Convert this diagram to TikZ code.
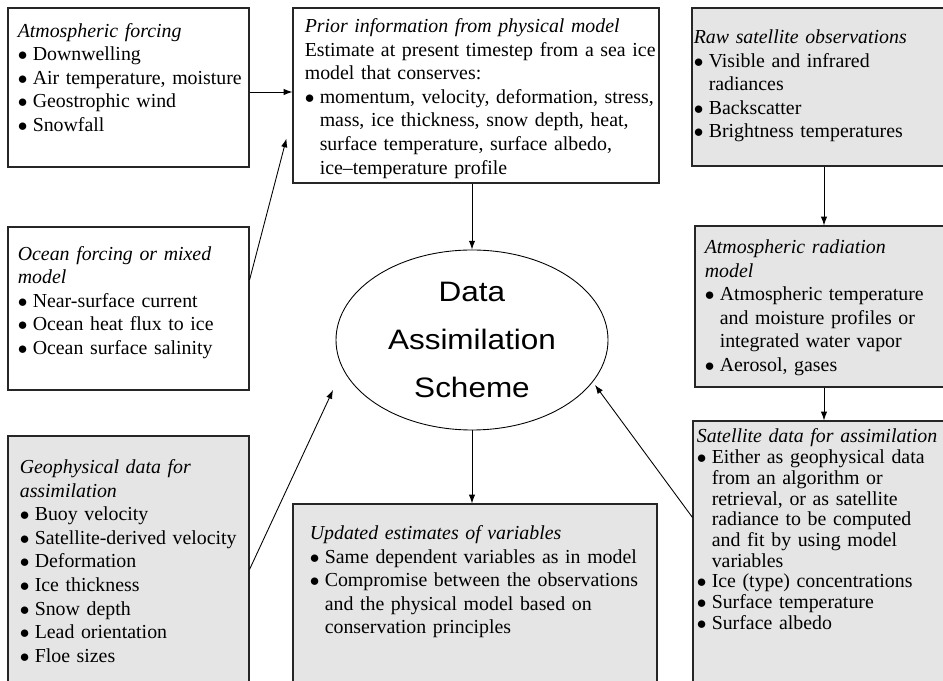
\documentclass[tikz,border=0pt]{standalone}
\usepackage{fontspec}
\setmainfont{Liberation Serif}
\newfontfamily\schemefont{Liberation Sans}[FakeStretch=1.12]
\usetikzlibrary{arrows.meta,shapes.geometric}

\setlength{\parindent}{0pt}
\setlength{\parskip}{0pt}
% bullet entry with hanging indent
\newcommand{\bitem}{\par\hangindent=8.5pt\hangafter=1\makebox[8.5pt][l]{$\bullet$}}

\begin{document}
\begin{tikzpicture}[
    >={Latex[length=5pt,width=3.6pt]},
    box/.style={draw=black!85, line width=0.6pt, inner sep=0pt},
    shaded/.style={box, fill=black!10},
    txt/.style={anchor=north west, inner sep=0pt, text width=#1,
        font=\fontsize{11.3}{13.4}\selectfont},
    link/.style={->, line width=0.5pt}
]

    % --- Canvas ---
    \useasboundingbox (0,0) rectangle (18.86,13.6);
    \clip (0,0) rectangle (18.86,13.6);

    % --- 1. Model inputs (left column and top) ---
    \node[box, minimum width=4.82cm, minimum height=3.18cm] (atmos) at (2.57,11.85) {};
    \node[txt=5cm] (atmosText) at ([shift={(0.2,-0.31)}]atmos.north west)
        {\textit{Atmospheric forcing}
         \bitem Downwelling
         \bitem Air temperature, moisture
         \bitem Geostrophic wind
         \bitem Snowfall\par};

    \node[box, minimum width=7.32cm, minimum height=3.5cm] (prior) at (9.52,11.69) {};
    \node[txt=8cm] (priorText) at ([shift={(0.24,-0.22)}]prior.north west)
        {\textit{Prior information from physical model}\par
         Estimate at present timestep from a sea ice\newline model that conserves:
         \bitem momentum, velocity, deformation, stress,\newline mass, ice thickness, snow depth, heat,\newline
         surface temperature, surface albedo,\newline ice--temperature profile\par};

    \node[box, minimum width=4.82cm, minimum height=3.26cm] (ocean) at (2.57,7.43) {};
    \node[txt=5cm] (oceanText) at ([shift={(0.2,-0.39)}]ocean.north west)
        {\textit{Ocean forcing or mixed\newline model}
         \bitem Near-surface current
         \bitem Ocean heat flux to ice
         \bitem Ocean surface salinity\par};

    % --- 2. Observation chain (right column) ---
    \node[shaded, minimum width=5.28cm, minimum height=3.16cm] (raw) at (16.48,11.86) {};
    \node[txt=6cm] (rawText) at ([shift={(0.04,-0.44)}]raw.north west)
        {\textit{Raw satellite observations}
         \bitem Visible and infrared\newline radiances
         \bitem Backscatter
         \bitem Brightness temperatures\par};

    \node[shaded, minimum width=5.16cm, minimum height=3.22cm] (atmrad) at (16.48,7.47) {};
    \node[txt=6cm] (atmradText) at ([shift={(0.2,-0.28)}]atmrad.north west)
        {\textit{Atmospheric radiation\newline model}
         \bitem Atmospheric temperature\newline and moisture profiles or\newline integrated water vapor
         \bitem Aerosol, gases\par};

    \node[shaded, minimum width=5.24cm, minimum height=5.58cm] (sat) at (16.48,2.39) {};
    \node[txt=6cm, font=\fontsize{11.3}{11.8}\selectfont] (satText) at ([shift={(0.08,-0.16)}]sat.north west)
        {\textit{Satellite data for assimilation}
         \bitem Either as geophysical data\newline from an algorithm or\newline retrieval, or as satellite\newline
         radiance to be computed\newline and fit by using model\newline variables
         \bitem Ice (type) concentrations
         \bitem Surface temperature
         \bitem Surface albedo\par};

    % --- 3. Geophysical data and analysis output (bottom) ---
    \node[shaded, minimum width=4.82cm, minimum height=5.28cm] (geo) at (2.57,2.24) {};
    \node[txt=5cm] (geoText) at ([shift={(0.24,-0.48)}]geo.north west)
        {\textit{Geophysical data for\newline assimilation}
         \bitem Buoy velocity
         \bitem Satellite-derived velocity
         \bitem Deformation
         \bitem Ice thickness
         \bitem Snow depth
         \bitem Lead orientation
         \bitem Floe sizes\par};

    \node[shaded, minimum width=7.28cm, minimum height=3.92cm] (updated) at (9.50,1.56) {};
    \node[txt=8cm] (updatedText) at ([shift={(0.34,-0.44)}]updated.north west)
        {\textit{Updated estimates of variables}
         \bitem Same dependent variables as in model
         \bitem Compromise between the observations\newline and the physical model based on\newline conservation principles\par};

    % --- 4. Assimilation scheme ---
    \node[ellipse, draw, line width=0.5pt, minimum width=5.44cm, minimum height=3.6cm,
          inner sep=0pt, align=center, font=\schemefont\fontsize{16}{27.5}\selectfont]
          (dass) at (9.44,6.8) {Data\\Assimilation\\Scheme};

    % --- 5. Connectors ---
    \coordinate (atmosOut) at ([yshift=-0.09cm]atmos.east);
    \draw[link] (atmosOut) -- (atmosOut -| prior.west);
    \draw[link] ([yshift=0.57cm]ocean.east) -- ([shift={(-0.12,0.9)}]prior.south west);
    \draw[link] (dass.north |- prior.south) -- (dass.north);
    \draw[link] (dass.south) -- (dass.south |- updated.north);
    \draw[link] ([yshift=-2.68cm]geo.north east) -- ([shift={(-2.78,-1.0)}]dass.center);
    \draw[link] ([yshift=-1.94cm]sat.north west) -- ([shift={(2.46,-0.9)}]dass.center);
    \draw[link] (raw.south) -- (atmrad.north);
    \draw[link] (atmrad.south) -- (sat.north);

\end{tikzpicture}
\end{document}
